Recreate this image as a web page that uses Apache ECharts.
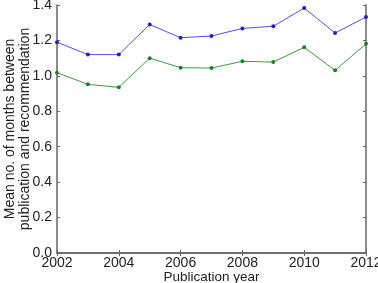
<!DOCTYPE html>
<html>
<head>
<meta charset="utf-8">
<script src="https://cdn.jsdelivr.net/npm/echarts@6/dist/echarts.min.js"></script>
<style>
  html, body { margin: 0; padding: 0; background: #fff; }
  #chart { width: 378px; height: 283px; }
</style>
</head>
<body>
<div id="chart"></div>
<script>
// data
var years = [2002, 2003, 2004, 2005, 2006, 2007, 2008, 2009, 2010, 2011, 2012];
var blueVals = [1.19, 1.12, 1.12, 1.29, 1.215, 1.225, 1.268, 1.28, 1.383, 1.242, 1.332];
var greenVals = [1.018, 0.952, 0.935, 1.10, 1.046, 1.044, 1.082, 1.078, 1.161, 1.031, 1.181];
var yTicks = [0, 0.2, 0.4, 0.6, 0.8, 1.0, 1.2, 1.4];

function pairs(vals) {
  return years.map(function (y, i) { return [y, vals[i]]; });
}

var axisColor = '#666';
var labelStyle = { color: '#222', fontFamily: 'Liberation Sans', fontSize: 14 };
var boxLine = { show: true, lineStyle: { color: axisColor, width: 1.5 } };
var boxTick = { show: true, inside: true, length: 3, lineStyle: { color: axisColor } };

var myChart = echarts.init(document.getElementById('chart'));

var option = {
  animation: false,
  grid: { left: 57, right: 12, top: 5, bottom: 30, outerBoundsMode: 'none', containLabel: false },
  xAxis: [
    {
      type: 'value', min: 2002, max: 2012, interval: 2,
      axisLine: boxLine, axisTick: boxTick,
      axisLabel: Object.assign({ margin: 3, formatter: function (v) { return v; } }, labelStyle),
      splitLine: { show: false },
      name: 'Publication year', nameLocation: 'middle', nameGap: 17.5, nameMoveOverlap: false,
      nameTextStyle: { color: '#222', fontFamily: 'Liberation Sans', fontSize: 13.5 }
    },
    {
      type: 'value', position: 'top', min: 2002, max: 2012, interval: 2,
      axisLine: boxLine, axisTick: boxTick,
      axisLabel: { show: false },
      splitLine: { show: false }
    }
  ],
  yAxis: [
    {
      type: 'value', min: 0, max: 1.4, interval: 0.2,
      axisLine: boxLine, axisTick: boxTick,
      axisLabel: Object.assign({ margin: 5, formatter: function (v) { return v.toFixed(1); } }, labelStyle),
      splitLine: { show: false },
      name: 'Mean no. of months between\npublication and recommendation',
      nameLocation: 'middle', nameGap: 24, nameRotate: 90, nameMoveOverlap: false,
      nameTextStyle: { color: '#222', fontFamily: 'Liberation Sans', fontSize: 14, lineHeight: 15 }
    },
    {
      type: 'value', position: 'right', min: 0, max: 1.4, interval: 0.2,
      axisLine: boxLine, axisTick: boxTick,
      axisLabel: { show: false },
      splitLine: { show: false }
    }
  ],
  series: [
    {
      name: 'blue', type: 'line', data: pairs(blueVals),
      symbol: 'circle', symbolSize: 4,
      lineStyle: { color: '#5050e6', width: 1 },
      itemStyle: { color: '#2020d0' }
    },
    {
      name: 'green', type: 'line', data: pairs(greenVals),
      symbol: 'circle', symbolSize: 4,
      lineStyle: { color: '#3d9a3d', width: 1 },
      itemStyle: { color: '#208020' }
    }
  ]
};

myChart.setOption(option);
</script>
</body>
</html>
